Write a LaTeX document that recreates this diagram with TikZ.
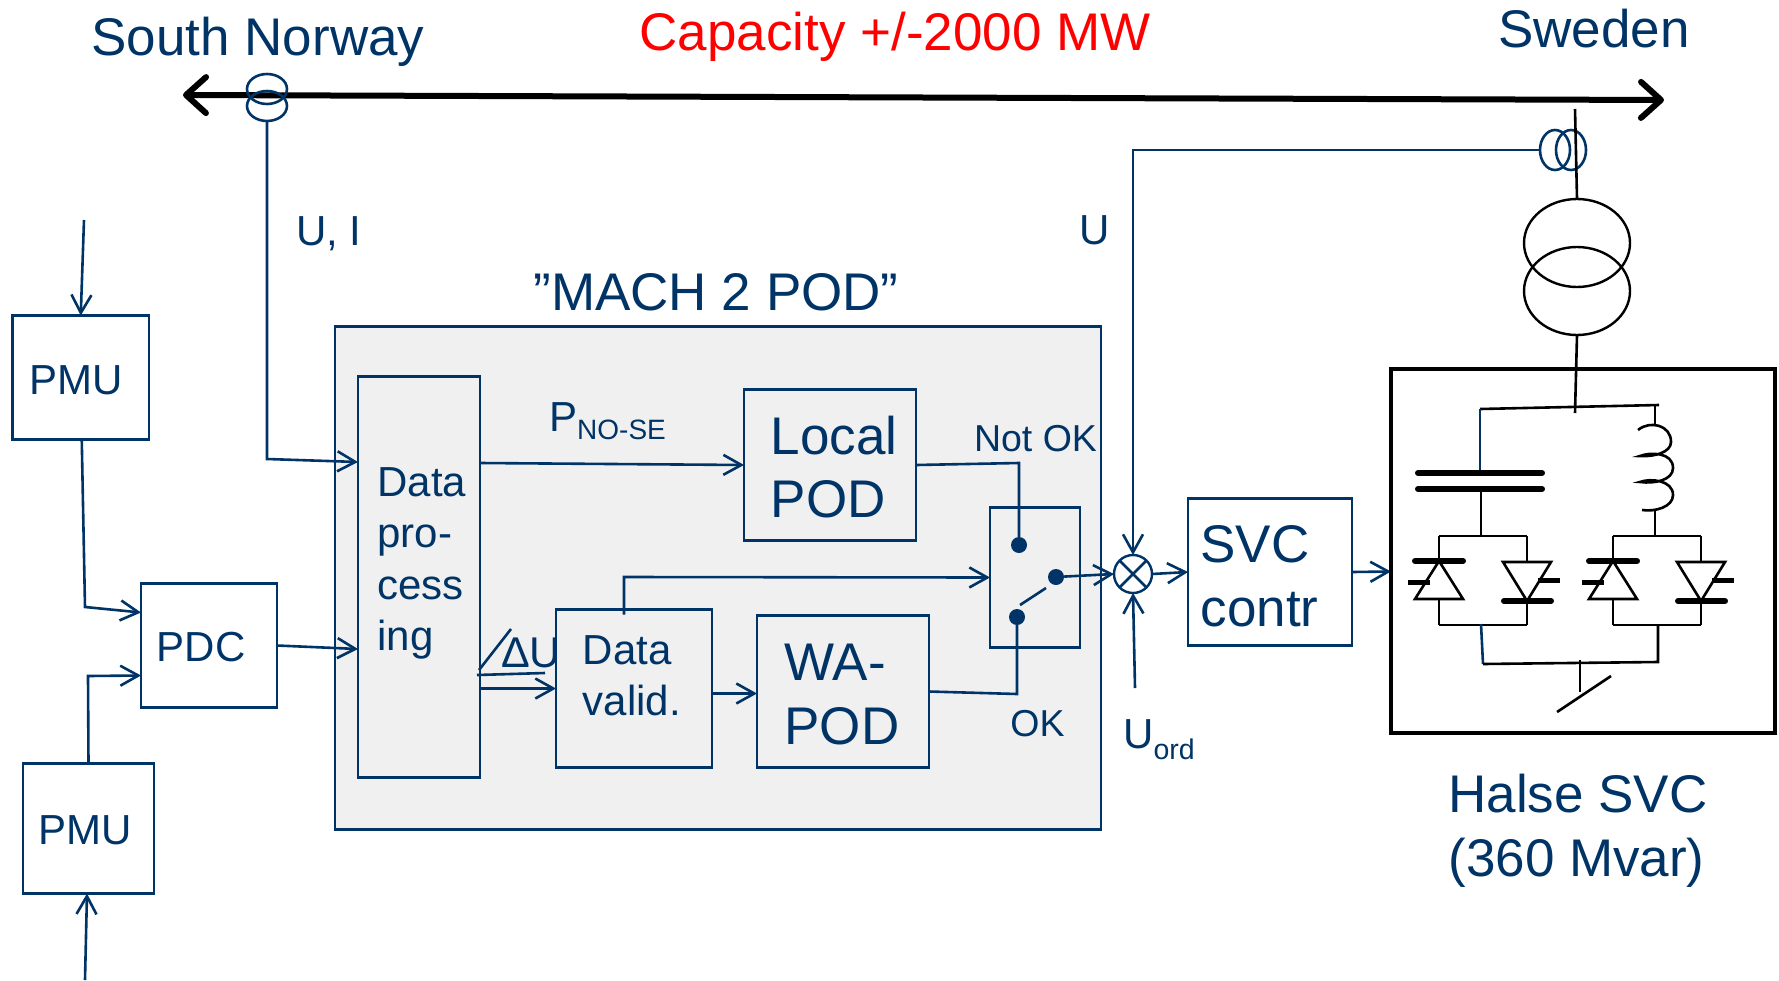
\documentclass[tikz,border=0pt]{standalone}
\usepackage{fontspec}
\setmainfont{Liberation Sans}
\usetikzlibrary{arrows.meta,shapes.geometric}
\definecolor{navy}{HTML}{003366}
\definecolor{panel}{HTML}{F0F0F0}
\tikzset{%
	>               = {Straight Barb[length=18pt,width=20pt]},
	bigtxt/.style   = {text = navy, font = \fontsize{53}{63.5}\selectfont, align = left, inner sep = 0pt},
	midtxt/.style   = {text = navy, font = \fontsize{42}{51.5}\selectfont, align = left, inner sep = 0pt},
	lowtxt/.style   = {text = navy, font = \fontsize{37.5}{45}\selectfont, inner sep = 0pt},
	boxsize/.style 2 args = {minimum width = #1pt, minimum height = #2pt},
	block/.style    = {draw = navy, line width = 2.4pt, rectangle, outer sep = 0pt},
	link/.style     = {draw = navy, line width = 2.6pt},
	ring/.style     = {draw = navy, line width = 2.6pt, ellipse, inner sep = 0pt, outer sep = 0pt},
	coilring/.style = {draw = black, line width = 2.4pt, ellipse, inner sep = 0pt, outer sep = 0pt,
		minimum width = 106pt, minimum height = 88pt},
	contact/.style  = {circle, fill = navy, inner sep = 0pt, minimum size = 16pt},
	sum/.style      = {draw = navy, line width = 2.4pt, circle, inner sep = 0pt, outer sep = 0pt, minimum size = 38pt},
	wire/.style     = {draw = black, line width = 2.6pt},
	plate/.style    = {draw = black, line width = 6pt, line cap = round},
	gatebar/.style  = {draw = black, line width = 5pt}
}
\begin{document}
\begin{tikzpicture}[x=1pt,y=-1pt]
	\useasboundingbox (0,0) rectangle (1779,980);

	\node[bigtxt]              (norway)   at (258,41.5) {South Norway};
	\node[bigtxt,text=red]     (capacity) at (895,36.5) {Capacity +/-2000 MW};
	\node[bigtxt]              (sweden)   at (1594,29)  {Sweden};
	\node[midtxt]              (ui)       at (329,234)  {U, I};
	\node[midtxt]              (utxt)     at (1095,230) {U};
	\node[bigtxt]              (halse)    at (1578,831) {Halse SVC\\(360 Mvar)};

	% bus
	\coordinate (busw) at (183,95);
	\coordinate (buse) at (1664,100);
	\draw[line width=6pt,{Straight Barb[length=20pt,width=36pt,round]}-{Straight Barb[length=20pt,width=36pt,round]}] (busw) -- (buse);
	\node[ring,boxsize={40}{30}] (rawest)  at (267,89)   {};
	\node[ring,boxsize={40}{30}] (rbwest)  at (267,106)  {};
	\node[ring,boxsize={30}{40}] (raeast)  at (1555,150) {};
	\node[ring,boxsize={30}{40}] (rbeast)  at (1571,150) {};

	% main panel
	\node[block,fill=panel,boxsize={766}{503}] (mach) at (718,578) {};
	\node[bigtxt] (machtxt) at (716,292) {”MACH 2 POD”};
	\node[block,boxsize={122}{401},label={[midtxt,shift={(3,-13.5)}]center:Data\\pro-\\cess\\ing}] (dataproc) at (419,577) {};
	\node[block,boxsize={172}{151},label={[bigtxt,shift={(4,2)}]center:Local\\POD}] (localpod) at (830,465) {};
	\node[block,boxsize={156}{158},label={[midtxt,shift={(-2,-13)}]center:Data\\valid.}] (datavalid) at (634,688.5) {};
	\node[block,boxsize={172}{152},label={[bigtxt,shift={(-1,3)}]center:WA-\\POD}] (wapod) at (843,691.5) {};
	\node[block,boxsize={90}{140}] (switchbox) at (1035,577.5) {};
	\node[contact] (cnot) at (1019,545) {};
	\node[contact] (cout) at (1056,577) {};
	\node[contact] (cok)  at (1017,617) {};

	% outside boxes
	\node[block,boxsize={136.5}{124},label={[midtxt,shift={(-5,2.5)}]center:PMU}] (pmua) at (80.75,377.5) {};
	\node[block,boxsize={131}{130},label={[midtxt,shift={(-3,1.5)}]center:PMU}] (pmub) at (88.5,828.5) {};
	\node[block,boxsize={136}{124},label={[midtxt,shift={(-8,2)}]center:PDC}] (pdc) at (209,645.5) {};
	\node[block,boxsize={164}{147},label={[bigtxt,shift={(-10.5,4)}]center:SVC\\contr}] (svcctrl) at (1270,572) {};
	\node[sum] (summer) at (1133,574) {};
	\draw[link] (summer.north west) -- (summer.south east);
	\draw[link] (summer.north east) -- (summer.south west);

	% labels on connectors
	\node[midtxt,anchor=base west] (pnose) at (549,431) {P\raisebox{-8pt}{\fontsize{28}{28}\selectfont NO-SE}};
	\node[midtxt,anchor=base west] (uord)  at (1123,748) {U\raisebox{-11pt}{\fontsize{28.5}{28}\selectfont ord}};
	\node[text=navy,font=\fontsize{43}{50}\selectfont,inner sep=0pt] (du) at (531,653) {ΔU};
	\node[lowtxt] (notok) at (1035.5,438.5) {Not OK};
	\node[lowtxt] (okay)  at (1037.5,724) {OK};

	% connectors
	\coordinate (pmuain) at (84,220);
	\coordinate (pmubin) at (85,980);
	\coordinate (uordin) at (1135,688);
	\draw[link,->] (pmuain) -- (pmua.north);
	\draw[link,->] (pmubin) -- ([xshift=-1.5pt]pmub.south);
	\draw[link,->] ([xshift=1pt]pmua.south) -- (85,607) -- ([yshift=33pt]pdc.west);
	\draw[link,->] (pmub.north) -- (88,676) -- ([yshift=-30pt]pdc.west);
	\draw[link,->] (pdc.east) -- ([yshift=-72pt]dataproc.west);
	\draw[link,->] (rbwest.south) -- (267,459) -- ([yshift=115pt]dataproc.west);
	\draw[link,->] ([yshift=114pt]dataproc.east) -- ([yshift=0pt]localpod.west);
	\draw[link,->] ([yshift=-111.5pt]dataproc.east) -- ([xshift=-78pt]datavalid.center);
	\draw[link] (477,675) -- (545,673);
	\draw[link] (479,670) -- (511,629);
	\draw[link,->] ([xshift=-10pt,yshift=-5pt]datavalid.north) -- (624,577) -- (switchbox.west);
	\draw[link,->] ([yshift=-5pt]datavalid.east) -- ([yshift=-2pt]wapod.west);
	\draw[link] (localpod.east) -- (1019,463) -- (cnot);
	\draw[link] ([yshift=0pt]wapod.east) -- (1017,694) -- (cok);
	\draw[link] (1020,605) -- (1046,588);
	\draw[link,->] (cout) -- (summer.west);
	\draw[link,->] (summer.east) -- ([yshift=0pt]svcctrl.west);
	\draw[link,->] (raeast.west) -- (1133,150) -- (summer.north);
	\draw[link,->] (uordin) -- (summer.south);
	\draw[link,->] (svcctrl.east) -- (1391,571.5);

	% transformer
	\node[coilring] (tra) at (1577,243) {};
	\node[coilring] (trb) at (1577,291) {};
	\coordinate (tapn) at (1575,109);
	\coordinate (taps) at (1575,413);
	\draw[wire] (tapn) -- (tra.north);
	\draw[wire] (trb.south) -- (taps);

	% SVC
	\node[draw=black,line width=4pt,outer sep=0pt,boxsize={384}{364}] (svcbox) at (1583,551) {};
	\draw[wire] (1480,409) -- (1659,405);
	\draw[link] (1480,409) -- (1480,470);
	\draw[plate] (1418,473) -- (1542,473);
	\draw[plate] (1418,489) -- (1542,489);
	\draw[wire] (1481,489) -- (1481,536);
	\draw[wire] (1655,405) -- (1655,425);
	\draw[wire] (1638,430) .. controls (1650,420) and (1671,425) .. (1671,442)
		.. controls (1671,452) and (1655,457) .. (1640,456)
		.. controls (1650,452) and (1673,452) .. (1673,468)
		.. controls (1673,480) and (1655,484) .. (1640,482)
		.. controls (1650,478) and (1673,480) .. (1673,495)
		.. controls (1673,507) and (1655,512) .. (1642,510);
	\draw[wire] (1655,511) -- (1655,536);
	\foreach \x in {1439,1613} {
		\draw[wire] (\x,536) -- (\x,561);
		\draw[plate] (\x-24,561) -- (\x+24,561);
		\draw[wire] (\x,561) -- (\x-24,599) -- (\x+24,599) -- cycle;
		\draw[gatebar] (\x-31,582) -- (\x-9,582);
		\draw[wire] (\x,599) -- (\x,625);
		\draw[wire] (\x,536) -- (\x+88,536);
		\draw[wire] (\x,625) -- (\x+88,625);
	}
	\foreach \x in {1527,1701} {
		\draw[wire] (\x,536) -- (\x,562);
		\draw[wire] (\x,601) -- (\x-24,562) -- (\x+24,562) -- cycle;
		\draw[plate] (\x-23,601) -- (\x+24,601);
		\draw[gatebar] (\x+11,580) -- (\x+33,580);
		\draw[wire] (\x,601) -- (\x,625);
	}
	\draw[link] (1481,624) -- (1483,664);
	\draw[wire] (1483,664) -- (1658,662) -- (1658,625);
	\draw[wire] (1580,660) -- (1580,692);
	\draw[wire] (1557,712) -- (1611,676);
\end{tikzpicture}
\end{document}
